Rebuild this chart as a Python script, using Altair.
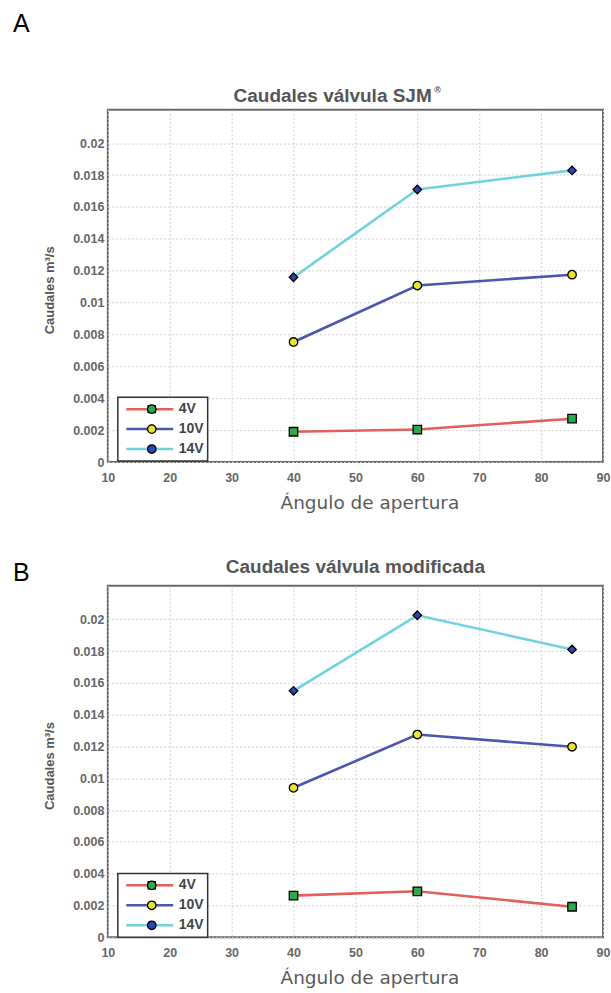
import altair as alt
import pandas as pd

# ---------------- data ----------------
angles = [40, 60, 85]
series = ["4V", "10V", "14V"]

# Panel A: Caudales válvula SJM®
a_4v = [0.0019, 0.00204, 0.00272]
a_10v = [0.00753, 0.01107, 0.01175]
a_14v = [0.01159, 0.01709, 0.01829]

# Panel B: Caudales válvula modificada
b_4v = [0.00262, 0.00289, 0.00192]
b_10v = [0.0094, 0.01275, 0.01198]
b_14v = [0.0155, 0.02025, 0.0181]

x_ticks = [10, 20, 30, 40, 50, 60, 70, 80, 90]
y_ticks = [0, 0.002, 0.004, 0.006, 0.008, 0.01, 0.012, 0.014, 0.016, 0.018, 0.02]
x_domain = [10, 90]
y_domain = [0, 0.0221]

titles = ["Caudales válvula SJM", "Caudales válvula modificada"]
title_marks = ["®", ""]
letters = ["A", "B"]
x_title = "Ángulo de apertura"
y_title = "Caudales m³/s"

line_colors = ["#e35f5c", "#4b56ad", "#72d2de"]
marker_fills = ["#2faa48", "#e8e62c", "#2d46b4"]
marker_shapes = ["square", "circle", "diamond"]


def make_df(v4, v10, v14):
    rows = []
    for name, vals in zip(series, [v4, v10, v14]):
        for a, v in zip(angles, vals):
            rows.append({"angle": a, "caudal": v, "serie": name, "serie_m": name})
    return pd.DataFrame(rows)


def text_layer(txt, x, y, size, align="left", weight="normal", color="black",
               font="Liberation Sans"):
    return alt.Chart(pd.DataFrame({"t": [txt]})).mark_text(
        align=align, baseline="middle", fontSize=size, font=font,
        fontWeight=weight, color=color,
    ).encode(text="t:N", x=alt.value(x), y=alt.value(y))


def panel(df, title, tmark, letter, letter_y, title_y, h, centered):
    x = alt.X(
        "angle:Q",
        scale=alt.Scale(domain=x_domain, nice=False, zero=False),
        axis=alt.Axis(
            values=x_ticks, title=x_title, labelFlush=False, labelOverlap=False,
            labelPadding=9, titlePadding=10, titleFont="DejaVu Sans",
            titleFontSize=18.5, titleFontWeight="normal", titleColor="#5a5a5a",
            titleX=262,
        ),
    )
    y = alt.Y(
        "caudal:Q",
        scale=alt.Scale(domain=y_domain, nice=False, zero=True),
        axis=alt.Axis(
            values=y_ticks, format="~g", title=y_title, labelOverlap=False,
            labelPadding=4, titlePadding=16, titleFontSize=13,
            titleFontWeight="bold", titleColor="#555555", titleY=h / 2 + 4,
        ),
    )
    line_legend = alt.Legend(
        title=None, orient="none", legendX=10, legendY=288,
        symbolType="stroke", symbolSize=2209, symbolStrokeWidth=2.5,
        clipHeight=16, rowPadding=4, padding=4, labelOffset=4, symbolOffset=3,
        strokeColor="#333333", fillColor="white", labelFontSize=14,
        labelFont="Liberation Sans", labelFontWeight="bold", labelColor="#444444",
        zindex=1,
    )
    marker_legend = alt.Legend(
        title=None, orient="none", legendX=10, legendY=288,
        symbolSize=72, symbolStrokeColor="black", symbolStrokeWidth=1.3,
        clipHeight=16, rowPadding=4, padding=4, labelOffset=4, symbolOffset=23,
        labelExpr="''", labelFontSize=14, labelFont="Liberation Sans",
        labelFontWeight="bold", zindex=2,
    )
    lines = alt.Chart(df).mark_line(strokeWidth=2.6).encode(
        x=x, y=y,
        stroke=alt.Stroke("serie:N", scale=alt.Scale(domain=series, range=line_colors),
                          legend=line_legend),
    )
    points = alt.Chart(df).mark_point(
        filled=True, size=72, stroke="black", strokeWidth=1.3, opacity=1
    ).encode(
        x=x, y=y,
        fill=alt.Fill("serie_m:N", sort=series, scale=alt.Scale(range=marker_fills),
                      legend=marker_legend),
        shape=alt.Shape("serie_m:N", sort=series, scale=alt.Scale(range=marker_shapes),
                        legend=marker_legend),
    )
    layers = [lines, points, text_layer(letter, -95, letter_y, 25)]
    if centered:
        layers.append(text_layer(title, 248, title_y, 19, align="center",
                                 weight="bold", color="#555555"))
    else:
        layers.append(text_layer(title, 126, title_y, 19, align="left",
                                 weight="bold", color="#555555"))
        layers.append(text_layer(tmark, 327, title_y - 6, 9, align="left",
                                 weight="bold", color="#555555"))
    return alt.layer(*layers).properties(width=496, height=h)


p1 = panel(make_df(a_4v, a_10v, a_14v), titles[0], title_marks[0], letters[0],
           -86, -14, 353, False)
p2 = panel(make_df(b_4v, b_10v, b_14v), titles[1], title_marks[1], letters[1],
           -13, -19, 352, True)

chart = alt.vconcat(p1, p2, spacing=44).resolve_scale(
    stroke="independent", fill="independent", shape="independent"
).resolve_legend(
    stroke="independent", fill="independent", shape="independent"
).properties(
    padding={"left": 12, "top": 10, "right": 0, "bottom": 0},
    background="white",
).configure_view(
    stroke="#6a6a6a", strokeWidth=2
).configure_axis(
    grid=True, gridColor="#cfcfcf", gridDash=[2, 2], gridWidth=1,
    ticks=False, domain=False,
    labelFont="Liberation Sans", labelFontSize=12.5, labelFontWeight="bold",
    labelColor="#666666", titleFont="Liberation Sans",
).configure_legend(strokeWidth=1.5)

chart.save("out.html", embed_options={"renderer": "svg", "actions": False})
